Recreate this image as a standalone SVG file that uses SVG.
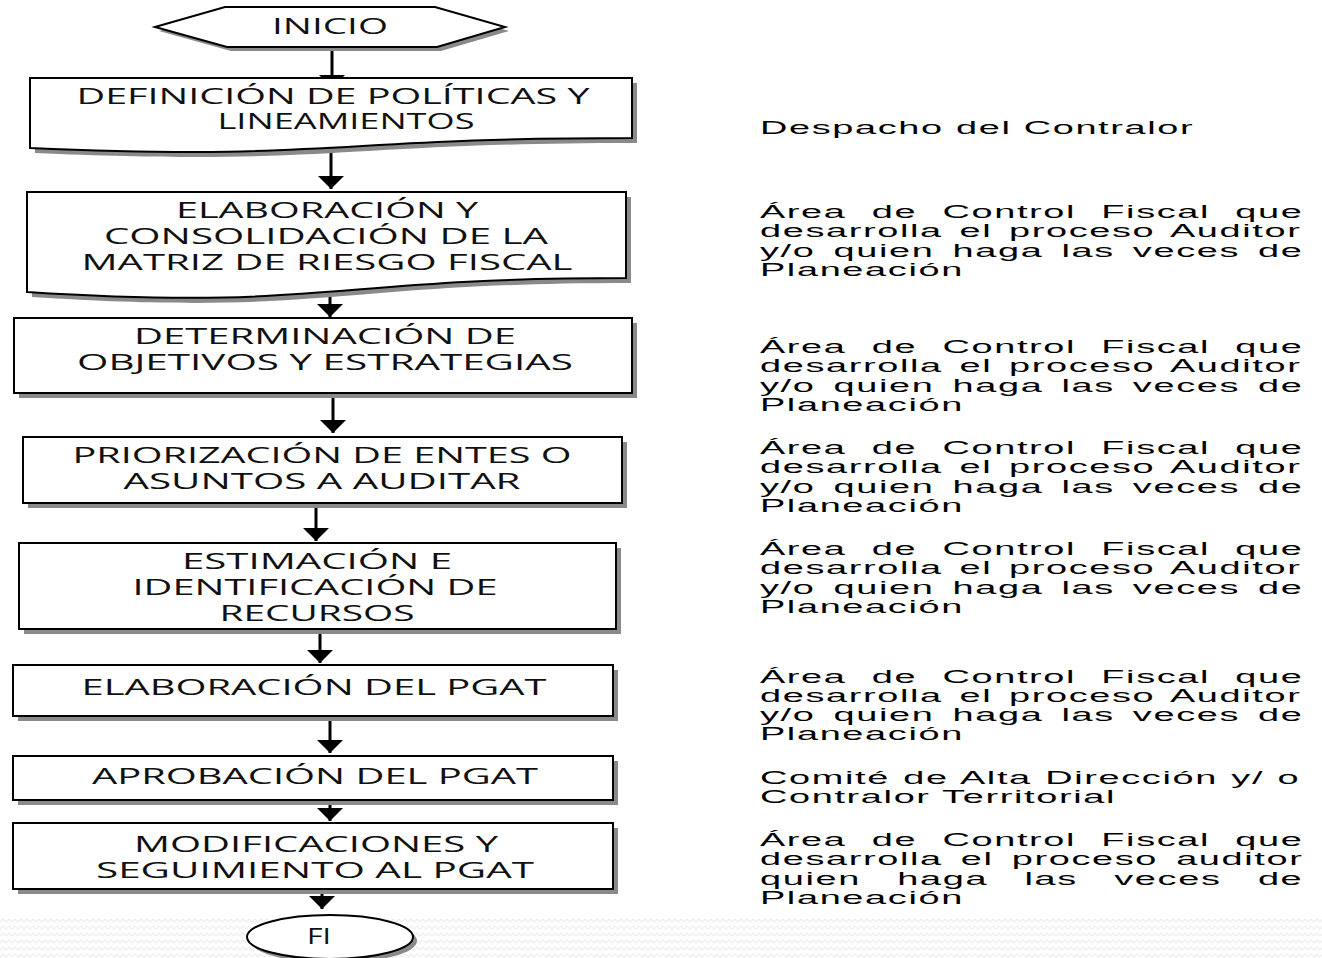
<svg xmlns="http://www.w3.org/2000/svg" width="1322" height="958" viewBox="0 0 1322 958">
  <defs>
    <style>
      .shape { fill: #ffffff; stroke: #000000; stroke-width: 2; }
      .shadow { fill: #8a8a8a; stroke: none; }
      .lbl { font-family: "Open Sans", "Liberation Sans", sans-serif; font-size: 21px; fill: #111111; text-anchor: middle; }
      .note { font-family: "Liberation Sans", Arial, sans-serif; font-size: 18.5px; letter-spacing: 0.8px; fill: #000000; }
      .conn { stroke: #000000; stroke-width: 3; fill: none; marker-end: url(#head); }
    </style>
    <marker id="head" markerUnits="userSpaceOnUse" markerWidth="14" markerHeight="26" viewBox="0 0 14 26" refX="13" refY="13" orient="auto">
      <path d="M0,0 L13,13 L0,26 Z" fill="#000000"/>
    </marker>
    <pattern id="zig" patternUnits="userSpaceOnUse" width="12" height="7">
      <path d="M0,5 L3,2 L6,5 L9,2 L12,5" fill="none" stroke="#ececec" stroke-width="1.2"/>
    </pattern>
  </defs>

  <rect width="1322" height="958" fill="#ffffff"/>
  <!-- textured strip along the bottom edge -->
  <rect x="0" y="917" width="1322" height="41" fill="url(#zig)"/>

  <g id="connectors">
    <line class="conn" x1="332" y1="47" x2="332" y2="88"/>
    <line class="conn" x1="331" y1="150" x2="331" y2="189"/>
    <line class="conn" x1="330" y1="292" x2="330" y2="317"/>
    <line class="conn" x1="333" y1="394" x2="333" y2="433"/>
    <line class="conn" x1="316" y1="505" x2="316" y2="541"/>
    <line class="conn" x1="320" y1="630" x2="320" y2="663"/>
    <line class="conn" x1="330" y1="717" x2="330" y2="753"/>
    <line class="conn" x1="330" y1="801" x2="330" y2="821"/>
    <line class="conn" x1="322" y1="889" x2="322" y2="909"/>
  </g>

  <g id="inicio">
    <polygon class="shadow" points="159,31 229,11 439,11 509,31 441,51 231,51"/>
    <polygon class="shape" points="155,27 225,7 435,7 505,27 437,47 227,47"/>
    <text class="lbl" x="330" y="34" textLength="116" lengthAdjust="spacingAndGlyphs">INICIO</text>
  </g>

  <g id="definicion">
    <path class="shadow" d="M35,83 H637 V143 C336,143 336,166 35,153 Z"/>
    <path class="shape" d="M30,78 H632 V138 C331,138 331,161 30,148 Z"/>
    <text class="lbl" x="333" y="104" textLength="513" lengthAdjust="spacingAndGlyphs">DEFINICIÓN DE POLÍTICAS Y</text>
    <text class="lbl" x="346" y="129" textLength="257" lengthAdjust="spacingAndGlyphs">LINEAMIENTOS</text>
  </g>

  <g id="matriz">
    <path class="shadow" d="M32,197 H631 V283 C331,283 331,316 32,297 Z"/>
    <path class="shape" d="M27,192 H626 V278 C326,278 326,311 27,292 Z"/>
    <text class="lbl" x="327" y="218" textLength="302" lengthAdjust="spacingAndGlyphs">ELABORACIÓN Y</text>
    <text class="lbl" x="326" y="244" textLength="444" lengthAdjust="spacingAndGlyphs">CONSOLIDACIÓN  DE LA</text>
    <text class="lbl" x="327" y="270" textLength="491" lengthAdjust="spacingAndGlyphs">MATRIZ DE RIESGO FISCAL</text>
  </g>

  <g id="objetivos">
    <rect class="shadow" x="19" y="323" width="618" height="75"/>
    <rect class="shape" x="14" y="318" width="618" height="75"/>
    <text class="lbl" x="325" y="344" textLength="382" lengthAdjust="spacingAndGlyphs">DETERMINACIÓN DE</text>
    <text class="lbl" x="325" y="370" textLength="496" lengthAdjust="spacingAndGlyphs">OBJETIVOS Y ESTRATEGIAS</text>
  </g>

  <g id="priorizacion">
    <rect class="shadow" x="28" y="442" width="599" height="66"/>
    <rect class="shape" x="23" y="437" width="599" height="66"/>
    <text class="lbl" x="322" y="463" textLength="499" lengthAdjust="spacingAndGlyphs">PRIORIZACIÓN DE ENTES O</text>
    <text class="lbl" x="322" y="489" textLength="397" lengthAdjust="spacingAndGlyphs">ASUNTOS A AUDITAR</text>
  </g>

  <g id="recursos">
    <rect class="shadow" x="24" y="548" width="597" height="86"/>
    <rect class="shape" x="19" y="543" width="597" height="86"/>
    <text class="lbl" x="317" y="569" textLength="270" lengthAdjust="spacingAndGlyphs">ESTIMACIÓN E</text>
    <text class="lbl" x="315" y="595" textLength="365" lengthAdjust="spacingAndGlyphs">IDENTIFICACIÓN DE</text>
    <text class="lbl" x="317" y="621" textLength="195" lengthAdjust="spacingAndGlyphs">RECURSOS</text>
  </g>

  <g id="elaboracion-pgat">
    <rect class="shadow" x="18" y="670" width="600" height="51"/>
    <rect class="shape" x="13" y="665" width="600" height="51"/>
    <text class="lbl" x="314" y="695" textLength="465" lengthAdjust="spacingAndGlyphs">ELABORACIÓN DEL PGAT</text>
  </g>

  <g id="aprobacion-pgat">
    <rect class="shadow" x="18" y="761" width="600" height="44"/>
    <rect class="shape" x="13" y="756" width="600" height="44"/>
    <text class="lbl" x="315" y="784" textLength="446" lengthAdjust="spacingAndGlyphs">APROBACIÓN DEL PGAT</text>
  </g>

  <g id="seguimiento-pgat">
    <rect class="shadow" x="18" y="828" width="600" height="66"/>
    <rect class="shape" x="13" y="823" width="600" height="66"/>
    <text class="lbl" x="316" y="852" textLength="364" lengthAdjust="spacingAndGlyphs">MODIFICACIONES Y</text>
    <text class="lbl" x="315" y="878" textLength="438" lengthAdjust="spacingAndGlyphs">SEGUIMIENTO AL PGAT</text>
  </g>

  <g id="fin">
    <ellipse class="shadow" cx="334" cy="941" rx="83" ry="22"/>
    <ellipse class="shape" cx="330" cy="937" rx="83" ry="22"/>
    <text class="lbl" x="319" y="944" textLength="24" lengthAdjust="spacingAndGlyphs">FI</text>
  </g>

  <!-- responsible-area notes: widened Arial, justified through word-spacing -->
  <g id="responsables" transform="scale(2.05,1)">
    <text class="note" x="370.7" y="134">Despacho del Contralor</text>

    <text class="note" x="370.7" y="218" word-spacing="6.35">Área de Control Fiscal que</text>
    <text class="note" x="370.7" y="237" word-spacing="2.2">desarrolla el proceso Auditor</text>
    <text class="note" x="370.7" y="257" word-spacing="2.86">y/o quien haga las veces de</text>
    <text class="note" x="370.7" y="276">Planeación</text>

    <text class="note" x="370.7" y="353" word-spacing="6.35">Área de Control Fiscal que</text>
    <text class="note" x="370.7" y="372" word-spacing="2.2">desarrolla el proceso Auditor</text>
    <text class="note" x="370.7" y="392" word-spacing="2.86">y/o quien haga las veces de</text>
    <text class="note" x="370.7" y="411">Planeación</text>

    <text class="note" x="370.7" y="454" word-spacing="6.35">Área de Control Fiscal que</text>
    <text class="note" x="370.7" y="473" word-spacing="2.2">desarrolla el proceso Auditor</text>
    <text class="note" x="370.7" y="493" word-spacing="2.86">y/o quien haga las veces de</text>
    <text class="note" x="370.7" y="512">Planeación</text>

    <text class="note" x="370.7" y="555" word-spacing="6.35">Área de Control Fiscal que</text>
    <text class="note" x="370.7" y="574" word-spacing="2.2">desarrolla el proceso Auditor</text>
    <text class="note" x="370.7" y="594" word-spacing="2.86">y/o quien haga las veces de</text>
    <text class="note" x="370.7" y="613">Planeación</text>

    <text class="note" x="370.7" y="683" word-spacing="6.35">Área de Control Fiscal que</text>
    <text class="note" x="370.7" y="702" word-spacing="2.2">desarrolla el proceso Auditor</text>
    <text class="note" x="370.7" y="721" word-spacing="2.86">y/o quien haga las veces de</text>
    <text class="note" x="370.7" y="740">Planeación</text>

    <text class="note" x="370.7" y="784" word-spacing="0.58">Comité de Alta Dirección y/ o</text>
    <text class="note" x="370.7" y="803">Contralor Territorial</text>

    <text class="note" x="370.7" y="846" word-spacing="6.35">Área de Control Fiscal que</text>
    <text class="note" x="370.7" y="865" word-spacing="2.87">desarrolla el proceso auditor</text>
    <text class="note" x="370.7" y="885" word-spacing="11.8">quien haga las veces de</text>
    <text class="note" x="370.7" y="904">Planeación</text>
  </g>
</svg>
